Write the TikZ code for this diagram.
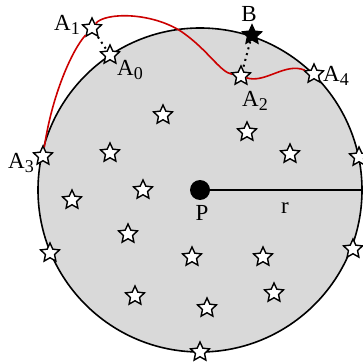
\documentclass[tikz,border=0pt]{standalone}
\usepackage{fontspec}
\setmainfont{Liberation Serif}
\usetikzlibrary{shapes.geometric}

\newcommand{\pt}[1]{A\raisebox{-0.35ex}{\small #1}}

\begin{document}
\begin{tikzpicture}[x=0.5pt, y=-0.5pt]

        \tikzset{
            star node/.style={star, star points=5, star point ratio=2.1, draw=black, fill=white,
                              line width=0.7pt, minimum size=10pt, inner sep=0pt},
            black star/.style={star node, fill=black},
            lbl/.style={inner sep=0pt, font=\fontsize{11.5}{13}\selectfont}
        }

        \useasboundingbox (0, 0) rectangle (363, 363);

        % the disc and its centre
        \fill[gray!30] (200, 190) circle [radius=81pt];
        \draw[line width=0.8pt] (200, 190) circle [radius=81pt];
        \node[circle, fill=black, minimum size=10pt, inner sep=0pt] (p) at (200, 190) {};
        \coordinate (rim) at (362, 190);
        \draw[line width=0.8pt] (p) -- (rim);

        % stars on the rim and outside, with names
        \node[star node] (a1) at (92, 28) {};
        \node[star node] (a0) at (110, 55) {};
        \node[black star] (b) at (252, 35) {};
        \node[star node] (a2) at (241, 76) {};
        \node[star node] (a4) at (314, 74) {};
        \node[star node] (a3) at (43, 156) {};

        % other stars on the rim
        \node[star node] (e1) at (359, 157) {};
        \node[star node] (e2) at (353, 249) {};
        \node[star node] (e3) at (200, 352) {};
        \node[star node] (e4) at (50, 253) {};

        % stars inside the disc
        \node[star node] (s1) at (163, 115) {};
        \node[star node] (s2) at (247, 132) {};
        \node[star node] (s3) at (110, 153) {};
        \node[star node] (s4) at (290, 154) {};
        \node[star node] (s5) at (143, 190) {};
        \node[star node] (s6) at (72, 200) {};
        \node[star node] (s7) at (128, 234) {};
        \node[star node] (s8) at (192, 257) {};
        \node[star node] (s9) at (263, 257) {};
        \node[star node] (s10) at (274, 293) {};
        \node[star node] (s11) at (135, 296) {};
        \node[star node] (s12) at (207, 308) {};

        % red path
        \draw[red!80!black, line width=0.8pt] (a3) .. controls (52, 95) and (72, 50) .. (a1);
        \draw[red!80!black, line width=0.8pt] (a1) .. controls (105, 12) and (152, 12) .. (182, 32)
            .. controls (208, 50) and (220, 72) .. (a2);
        \draw[red!80!black, line width=0.8pt] (a2) .. controls (265, 84) and (285, 62) .. (a4);

        % dotted links
        \draw[dotted, line width=1pt] (a1) -- (a0);
        \draw[dotted, line width=1pt] (b) -- (a2);

        % labels
        \node[lbl] (la1) at (67, 25) {\pt{1}};
        \node[lbl] (la0) at (130, 70) {\pt{0}};
        \node[lbl] (lb) at (249, 14) {B};
        \node[lbl] (la2) at (255, 101) {\pt{2}};
        \node[lbl] (la4) at (336, 76) {\pt{4}};
        \node[lbl] (la3) at (21, 163) {\pt{3}};
        \node[lbl] (lp) at (202, 213) {P};
        \node[lbl] (lr) at (285, 208) {r};

\end{tikzpicture}
\end{document}
